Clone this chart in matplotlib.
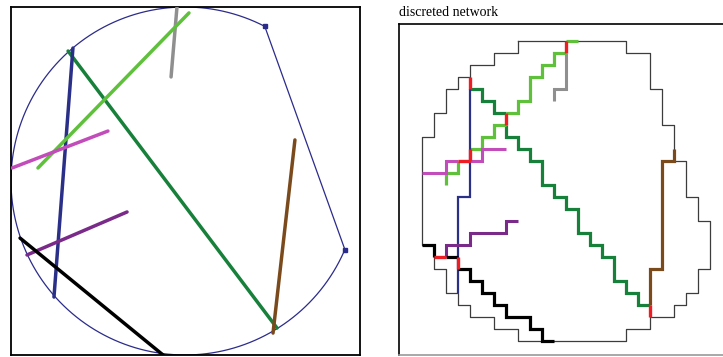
import numpy as np
import matplotlib
matplotlib.use("Agg")
import matplotlib.pyplot as plt

# --- 左: 連続ネットワーク (単位円座標) ---
arc_start, arc_end = 62.7, 336.8   # 円弧の角度 (deg), 右側は弦で閉じる
circle_color = '#2b2b8c'

cont_lines = {
    'gray':    ([-0.046, -0.080], [1.000, 0.598]),
    'lgreen':  ([0.023, -0.845], [0.966, 0.075]),
    'navy':    ([-0.644, -0.753], [0.764, -0.667]),
    'dgreen':  ([-0.672, 0.529], [0.747, -0.845]),
    'magenta': ([-0.994, -0.443], [0.075, 0.287]),
    'brown':   ([0.632, 0.506], [0.236, -0.874]),
    'purple':  ([-0.908, -0.333], [-0.425, -0.178]),
    'black':   ([-0.948, -0.126], [-0.328, -1.000]),
}

# --- 右: 離散ネットワーク (格子セル座標 col,row) ---
outer = [(8, 0), (17, 0), (17, 1), (19, 1), (19, 4), (20, 4), (20, 7), (21, 7), (21, 10), (22, 10),
         (22, 13), (23, 13), (23, 15), (24, 15), (24, 19), (23, 19), (23, 21), (22, 21), (22, 22),
         (21, 22), (21, 23), (19, 23), (19, 24), (17, 24), (17, 25), (8, 25), (8, 24), (6, 24),
         (6, 23), (4, 23), (4, 22), (3, 22), (3, 21), (2, 21), (2, 19), (1, 19), (1, 17), (0, 17),
         (0, 8), (1, 8), (1, 6), (2, 6), (2, 4), (3, 4), (3, 3), (4, 3), (4, 2), (6, 2), (6, 1),
         (8, 1), (8, 0)]

gray_path = [[(12, 1), (12, 4), (11, 4), (11, 5)]]
dgreen_path = [[(4, 4), (5, 4), (5, 5), (6, 5), (6, 6), (7, 6)],
               [(7, 7), (7, 8), (8, 8), (8, 9), (9, 9), (9, 10), (10, 10), (10, 12), (11, 12),
                (11, 13), (12, 13), (12, 14), (13, 14), (13, 16), (14, 16), (14, 17), (15, 17),
                (15, 18), (16, 18), (16, 20), (17, 20), (17, 21), (18, 21), (18, 22), (19, 22)]]
lgreen_path = [[(13, 0), (12, 0)],
               [(12, 1), (11, 1), (11, 2), (10, 2), (10, 3), (9, 3), (9, 5), (8, 5), (8, 6), (7, 6)],
               [(7, 7), (6, 7), (6, 8), (5, 8), (5, 9), (4, 9)],
               [(3, 10), (3, 11), (2, 11), (2, 12)]]
navy_path = [[(4, 4), (4, 13), (3, 13), (3, 21)]]
magenta_path = [[(0, 11), (2, 11), (2, 10), (3, 10)],
                [(4, 10), (5, 10), (5, 9), (7, 9)]]
purple_path = [[(8, 15), (7, 15), (7, 16), (4, 16), (4, 17), (2, 17), (2, 18)]]
black_path = [[(0, 17), (1, 17), (1, 18)],
              [(2, 18), (3, 18)],
              [(3, 19), (4, 19), (4, 20), (5, 20), (5, 21), (6, 21), (6, 22), (7, 22), (7, 23),
               (9, 23), (9, 24), (10, 24), (10, 25), (11, 25)]]
brown_path = [[(21, 9), (21, 10), (20, 10), (20, 19), (19, 19), (19, 22)]]
red_path = [[(4, 3), (4, 4)], [(12, 0), (12, 1)], [(7, 6), (7, 7)], [(4, 9), (4, 10)],
            [(3, 10), (4, 10)], [(1, 18), (2, 18)], [(3, 18), (3, 19)], [(19, 22), (19, 23)]]

colors = {
    'gray': '#8f8f8f', 'lgreen': '#5fc03c', 'navy': '#2a2f88', 'dgreen': '#17803a',
    'magenta': '#c24cba', 'brown': '#7b4a1c', 'purple': '#7a2a88', 'black': '#000000',
    'red': '#ee1d23',
}

W, H = 723, 357
fig = plt.figure(figsize=(W / 100, H / 100), dpi=100)

# 左パネル
ax1 = fig.add_axes([11 / W, 2 / H, 349 / W, 348 / H])
th = np.radians(np.linspace(arc_start, arc_end, 300))
cx = np.append(np.cos(th), np.cos(th[0]))
cy = np.append(np.sin(th), np.sin(th[0]))
ax1.plot(cx, cy, color=circle_color, lw=0.9, zorder=2)
ax1.plot([cx[0], cx[-2]], [cy[0], cy[-2]], ls='none', marker='s', ms=3.2,
         color=circle_color, zorder=3)
for name in ['gray', 'dgreen', 'navy', 'lgreen', 'magenta', 'brown', 'purple', 'black']:
    xs, ys = cont_lines[name]
    ax1.plot(xs, ys, color=colors[name], lw=2.5, solid_capstyle='round', zorder=4)
ax1.set_xlim(-1.0, 1.006)
ax1.set_ylim(-1.0, 1.0)
ax1.set_xticks([])
ax1.set_yticks([])
for s in ax1.spines.values():
    s.set_linewidth(1.3)
    s.set_color('black')

# 右パネル (右端は画像外)
ax2 = fig.add_axes([399 / W, 2 / H, 331 / W, 331 / H])
ox, oy = zip(*outer)
ax2.plot(ox, oy, color='#3c3c3c', lw=0.9, zorder=2)


def draw(paths, color, lw, z):
    for p in paths:
        px, py = zip(*p)
        ax2.plot(px, py, color=color, lw=lw, solid_capstyle='butt',
                 solid_joinstyle='miter', zorder=z)


draw(gray_path, colors['gray'], 2.2, 3)
draw(dgreen_path, colors['dgreen'], 2.3, 3)
draw(lgreen_path, colors['lgreen'], 2.3, 3)
draw(navy_path, colors['navy'], 1.6, 4)
draw(magenta_path, colors['magenta'], 2.2, 5)
draw(purple_path, colors['purple'], 2.2, 5)
draw(black_path, colors['black'], 2.3, 5)
draw(brown_path, colors['brown'], 2.3, 5)
draw(red_path, colors['red'], 2.4, 6)

ax2.set_xlim(-1.89, 25.69)
ax2.set_ylim(26.17, -1.417)
ax2.set_xticks([])
ax2.set_yticks([])
for s in ax2.spines.values():
    s.set_linewidth(1.2)
    s.set_color('black')
ax2.spines['bottom'].set_color('#999999')

fig.text(399 / W, 1 - 12 / H, 'discreted network', family='Liberation Serif',
         fontsize=10, ha='left', va='center')

plt.savefig('out.png', dpi=100)
